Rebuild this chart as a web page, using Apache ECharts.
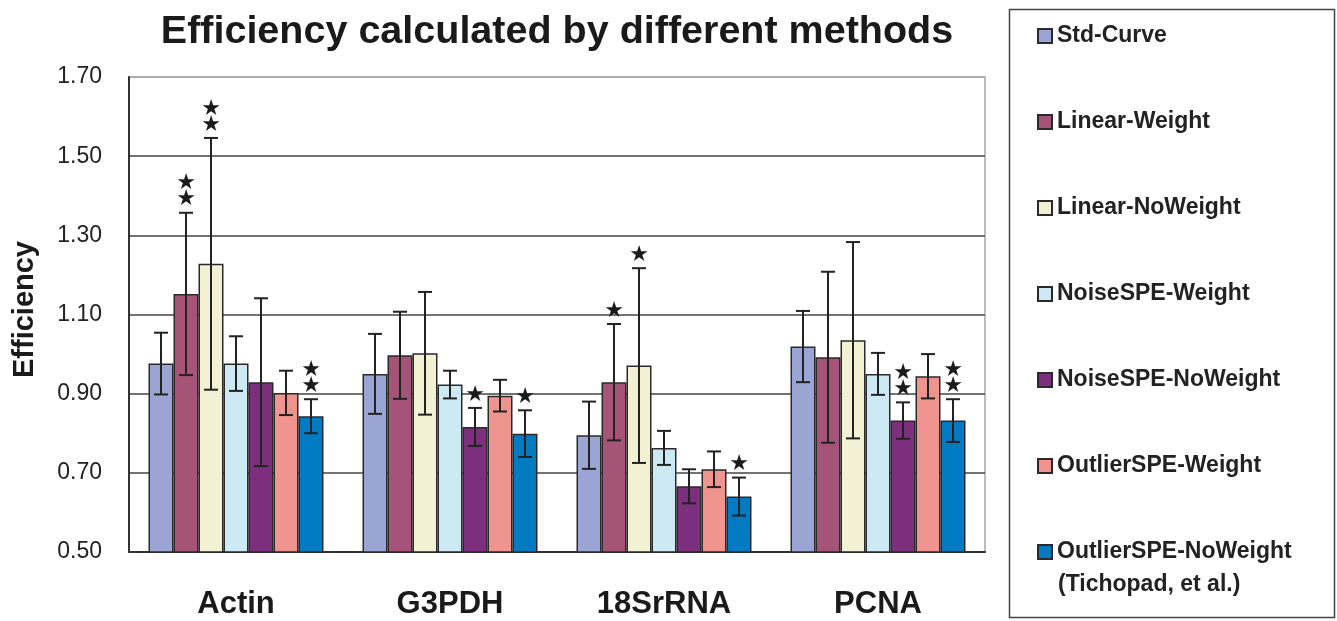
<!DOCTYPE html>
<html>
<head>
<meta charset="utf-8">
<script src="https://cdn.jsdelivr.net/npm/echarts@6/dist/echarts.min.js"></script>
<style>
  html, body { margin: 0; padding: 0; background: #fff; }
  #chart { width: 1337px; height: 621px; }
</style>
</head>
<body>
<div id="chart"></div>
<script>
// genes on the x axis
const categories = ['Actin', 'G3PDH', '18SrRNA', 'PCNA'];

const methods = [
  'Std-Curve',
  'Linear-Weight',
  'Linear-NoWeight',
  'NoiseSPE-Weight',
  'NoiseSPE-NoWeight',
  'OutlierSPE-Weight',
  'OutlierSPE-NoWeight (Tichopad, et al.)'
];

// mean efficiency per method, one value per gene
const stdCurve        = [0.976, 0.950, 0.795, 1.019];
const linearWeight    = [1.152, 0.997, 0.929, 0.992];
const linearNoWeight  = [1.228, 1.002, 0.971, 1.035];
const noiseWeight     = [0.976, 0.923, 0.763, 0.950];
const noiseNoWeight   = [0.929, 0.816, 0.666, 0.832];
const outlierWeight   = [0.902, 0.895, 0.709, 0.944];
const outlierNoWeight = [0.843, 0.799, 0.640, 0.832];

// error bar half-widths (+/-)
const stdCurveErr        = [0.078, 0.101, 0.085, 0.090];
const linearWeightErr    = [0.205, 0.110, 0.147, 0.216];
const linearNoWeightErr  = [0.318, 0.155, 0.246, 0.248];
const noiseWeightErr     = [0.069, 0.035, 0.043, 0.053];
const noiseNoWeightErr   = [0.212, 0.048, 0.043, 0.046];
const outlierWeightErr   = [0.056, 0.040, 0.045, 0.056];
const outlierNoWeightErr = [0.043, 0.059, 0.048, 0.054];

// number of significance stars above each bar
const stdCurveStars        = [0, 0, 0, 0];
const linearWeightStars    = [2, 0, 1, 0];
const linearNoWeightStars  = [2, 0, 1, 0];
const noiseWeightStars     = [0, 0, 0, 0];
const noiseNoWeightStars   = [0, 1, 0, 2];
const outlierWeightStars   = [0, 0, 0, 0];
const outlierNoWeightStars = [2, 1, 1, 2];

const yTicks = [0.5, 0.7, 0.9, 1.1, 1.3, 1.5, 1.7];

const values = [stdCurve, linearWeight, linearNoWeight, noiseWeight, noiseNoWeight, outlierWeight, outlierNoWeight];
const errs = [stdCurveErr, linearWeightErr, linearNoWeightErr, noiseWeightErr, noiseNoWeightErr, outlierWeightErr, outlierNoWeightErr];
const stars = [stdCurveStars, linearWeightStars, linearNoWeightStars, noiseWeightStars, noiseNoWeightStars, outlierWeightStars, outlierNoWeightStars];
const colors = ['#9aa5d3', '#a55377', '#f3f1d3', '#cde9f4', '#7c2f7d', '#f09490', '#027bc3'];

const FONT = '"Liberation Sans", Arial, sans-serif';
const BAR_W = 25;

const chart = echarts.init(document.getElementById('chart'));

const barSeries = methods.map((m, s) => ({
  name: m,
  type: 'bar',
  barWidth: BAR_W,
  barGap: '0%',
  data: values[s],
  itemStyle: { color: colors[s], borderColor: '#2a2a2a', borderWidth: 1.5 },
  emphasis: { disabled: true }
}));

// error bars + stars drawn from the same arrays
const errData = [];
values.forEach((vals, s) => {
  vals.forEach((v, c) => errData.push([c, v, errs[s][c], s, stars[s][c]]));
});

const errSeries = {
  type: 'custom',
  silent: true,
  z: 5,
  data: errData,
  encode: { x: 0, y: 1 },
  renderItem(params, api) {
    const c = api.value(0), v = api.value(1), e = api.value(2), s = api.value(3), n = api.value(4);
    const cx = api.coord([c, v])[0] + (s - 3) * BAR_W;
    const yTop = api.coord([c, v + e])[1];
    const yBot = api.coord([c, v - e])[1];
    const st = { stroke: '#222', lineWidth: 2 };
    const kids = [
      { type: 'line', shape: { x1: cx, y1: yTop, x2: cx, y2: yBot }, style: st },
      { type: 'line', shape: { x1: cx - 7, y1: yTop, x2: cx + 7, y2: yTop }, style: st },
      { type: 'line', shape: { x1: cx - 7, y1: yBot, x2: cx + 7, y2: yBot }, style: st }
    ];
    for (let k = 0; k < n; k++) {
      kids.push({
        type: 'text',
        style: {
          text: '★', x: cx, y: yTop - 13 - k * 16,
          align: 'center', verticalAlign: 'middle',
          font: '22px "DejaVu Sans"', fill: '#1a1a1a'
        }
      });
    }
    return { type: 'group', children: kids };
  }
};

chart.setOption({
  animation: false,
  backgroundColor: '#fff',
  title: {
    text: 'Efficiency calculated by different methods',
    left: 552,
    textAlign: 'center',
    top: 7,
    textStyle: { fontFamily: FONT, fontWeight: 'bold', fontSize: 39.5, color: '#1a1a1a' }
  },
  legend: {
    orient: 'vertical',
    left: 1037,
    top: 24,
    padding: 0,
    itemWidth: 14,
    itemHeight: 14,
    itemGap: 62,
    itemTextGap: 7,
    icon: 'rect',
    selectedMode: false,
    formatter: name => name.split(' (')[0],
    textStyle: { fontFamily: FONT, fontWeight: 'bold', fontSize: 23, lineHeight: 24, color: '#222' },
    data: methods
  },
  graphic: [
    { type: 'rect', left: 1007, top: 7, shape: { width: 325, height: 608 },
      style: { fill: 'none', stroke: '#444', lineWidth: 1.5 }, silent: true },
    { type: 'text', left: 1058, top: 573,
      style: { text: '(Tichopad, et al.)', font: 'bold 23px ' + FONT, fill: '#222' }, silent: true }
  ],
  grid: {
    left: 129, right: 352, top: 77, bottom: 69,
    show: true, borderColor: '#a8a8a8', borderWidth: 1.5, backgroundColor: '#fff'
  },
  xAxis: {
    type: 'category',
    data: categories,
    axisTick: { show: false },
    axisLine: { lineStyle: { color: '#333', width: 2 } },
    axisLabel: { fontFamily: FONT, fontWeight: 'bold', fontSize: 31, color: '#1a1a1a', margin: 37 }
  },
  yAxis: {
    type: 'value',
    min: yTicks[0],
    max: yTicks[yTicks.length - 1],
    interval: 0.2,
    name: 'Efficiency',
    nameLocation: 'middle',
    nameGap: 90,
    nameTextStyle: { fontFamily: FONT, fontWeight: 'bold', fontSize: 29, color: '#1a1a1a', padding: [0, 0, 0, 10] },
    axisLine: { show: true, lineStyle: { color: '#333', width: 2 } },
    axisTick: { show: false },
    axisLabel: { fontFamily: FONT, fontSize: 23, color: '#222', margin: 27, formatter: v => v.toFixed(2) },
    splitLine: { lineStyle: { color: ['#444', '#444', '#444', '#444', '#444', '#444', '#a8a8a8'], width: 1.5 } }
  },
  series: [...barSeries, errSeries]
});
</script>
</body>
</html>
